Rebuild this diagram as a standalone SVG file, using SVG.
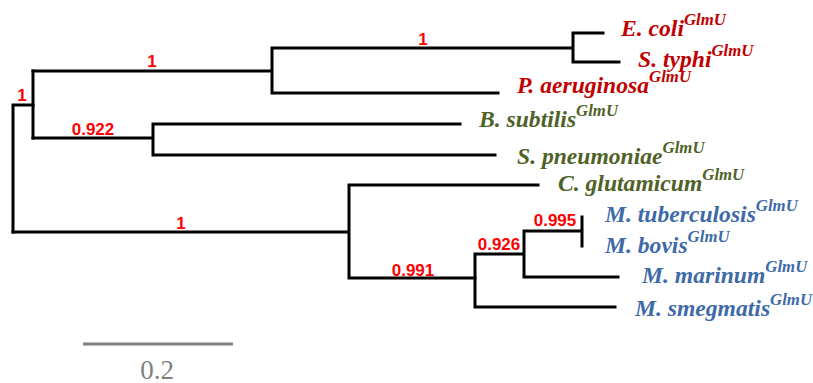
<svg xmlns="http://www.w3.org/2000/svg" width="813" height="383" viewBox="0 0 813 383">
<style>
.br{fill:none;stroke:#000;stroke-width:3;stroke-linecap:square;stroke-linejoin:miter}
.bs{font-family:"Liberation Sans",Arial,sans-serif;font-weight:bold;font-size:17px;fill:#ff0000;text-anchor:middle}
.sp{font-family:"Liberation Serif","Times New Roman",serif;font-weight:bold;font-style:italic;font-size:22.5px}
.sup{font-size:16px}
.r{fill:#c00000}.g{fill:#4f6228}.b{fill:#3e6ba8}
.scale{stroke:#808080;stroke-width:3}
.st{font-family:"Liberation Serif","Times New Roman",serif;font-size:27px;fill:#808080;text-anchor:middle}
</style>
<rect width="813" height="383" fill="#fff"/>
<g id="connectors">
<path class="br" d="M13,232 V105 H33"/>
<path class="br" d="M33,71 V138"/>
<path class="br" d="M33,71 H272 M272,48 V93 M272,48 H573 M573,33 V62 M573,33 H603 M573,62 H619 M272,93 H498"/>
<path class="br" d="M33,138 H153 M153,124 V155 M153,124 H460 M153,155 H495"/>
<path class="br" d="M13,232 H349 M349,185 V278 M349,185 H538 M349,278 H475"/>
<path class="br" d="M475,254 V307 M475,307 H615 M475,254 H524 M524,231 V277 M524,277 H618 M524,231 H582 M582,217 V246"/>
</g>
<g id="support">
<text class="bs" x="22" y="101">1</text>
<text class="bs" x="152" y="67">1</text>
<text class="bs" x="423" y="45">1</text>
<text class="bs" x="93" y="135">0.922</text>
<text class="bs" x="181" y="229">1</text>
<text class="bs" x="413" y="276">0.991</text>
<text class="bs" x="499" y="250">0.926</text>
<text class="bs" x="555" y="226">0.995</text>
</g>
<g id="ecoli"><text class="sp r" transform="translate(621,36) scale(1.05,1)">E. coli<tspan class="sup" dy="-11">GlmU</tspan></text></g>
<g id="styphi"><text class="sp r" transform="translate(638,67) scale(1.05,1)">S. typhi<tspan class="sup" dy="-11">GlmU</tspan></text></g>
<g id="paeruginosa"><text class="sp r" transform="translate(517,93) scale(1.05,1)">P. aeruginosa<tspan class="sup" dy="-11">GlmU</tspan></text></g>
<g id="bsubtilis"><text class="sp g" transform="translate(479,127) scale(1.05,1)">B. subtilis<tspan class="sup" dy="-11">GlmU</tspan></text></g>
<g id="spneumoniae"><text class="sp g" transform="translate(517,164) scale(1.05,1)">S. pneumoniae<tspan class="sup" dy="-11">GlmU</tspan></text></g>
<g id="cglutamicum"><text class="sp g" transform="translate(558,191) scale(1.05,1)">C. glutamicum<tspan class="sup" dy="-11">GlmU</tspan></text></g>
<g id="mtuberculosis"><text class="sp b" transform="translate(605,222) scale(1.05,1)">M. tuberculosis<tspan class="sup" dy="-11">GlmU</tspan></text></g>
<g id="mbovis"><text class="sp b" transform="translate(605,253) scale(1.05,1)">M. bovis<tspan class="sup" dy="-11">GlmU</tspan></text></g>
<g id="mmarinum"><text class="sp b" transform="translate(642,283) scale(1.05,1)">M. marinum<tspan class="sup" dy="-11">GlmU</tspan></text></g>
<g id="msmegmatis"><text class="sp b" transform="translate(635,316) scale(1.05,1)">M. smegmatis<tspan class="sup" dy="-11">GlmU</tspan></text></g>
<g id="scalebar">
<line class="scale" x1="83" y1="344" x2="233" y2="344"/>
<text class="st" x="157" y="379">0.2</text>
</g>
</svg>
